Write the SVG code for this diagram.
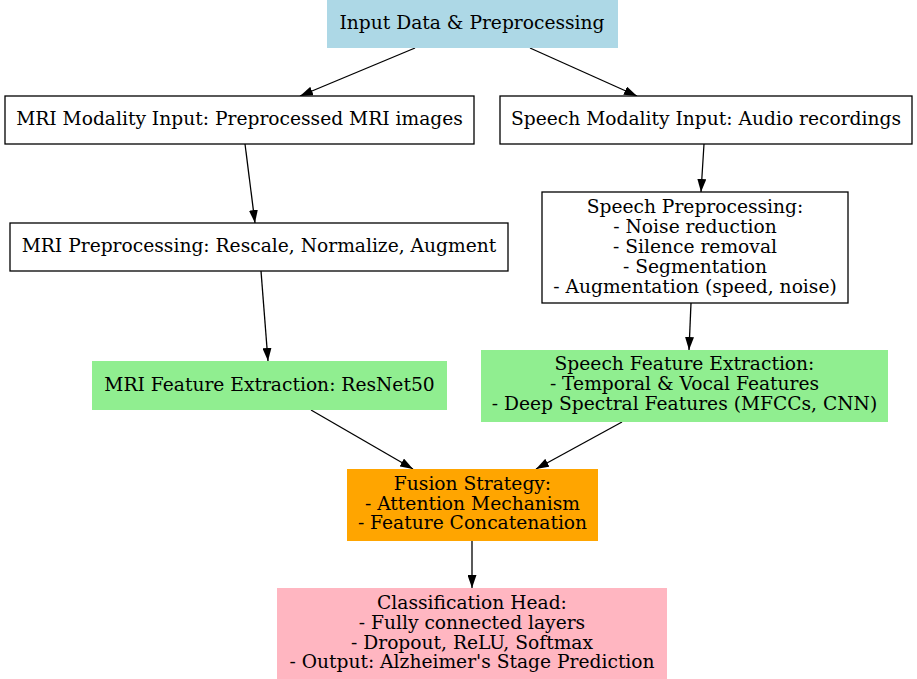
<svg xmlns="http://www.w3.org/2000/svg" width="917" height="679" viewBox="0 0 917 679">
<defs>
<style>
text{font-family:"DejaVu Serif","Liberation Serif",serif;font-size:18.67px;fill:#000;text-anchor:middle}
.o{fill:#fff;stroke:#000;stroke-width:1.3}
.e{stroke:#000;stroke-width:1.3;fill:none;marker-end:url(#a)}
</style>
<marker id="a" viewBox="0 0 13 9" refX="13" refY="4.5" markerWidth="13" markerHeight="9" markerUnits="userSpaceOnUse" orient="auto"><path d="M0,0L13,4.5L0,9z" fill="#000"/></marker>
</defs>
<rect width="917" height="679" fill="#fff"/>
<g id="edges">
<line class="e" x1="415" y1="48" x2="300" y2="96"/>
<line class="e" x1="530" y1="48" x2="637" y2="96"/>
<line class="e" x1="245" y1="144" x2="255" y2="223"/>
<line class="e" x1="704" y1="144" x2="701" y2="192"/>
<line class="e" x1="261" y1="271" x2="268" y2="361"/>
<line class="e" x1="691" y1="303" x2="689" y2="350"/>
<line class="e" x1="311" y1="410" x2="413" y2="469"/>
<line class="e" x1="622" y1="422" x2="536" y2="469"/>
<line class="e" x1="472" y1="541" x2="472" y2="588"/>
</g>
<g id="input"><rect x="327" y="0" width="291" height="48" fill="#add8e6"/><text x="472" y="29">Input Data &amp; Preprocessing</text></g>
<g id="mri_input"><rect class="o" x="5" y="96" width="469" height="48"/><text x="239.5" y="125">MRI Modality Input: Preprocessed MRI images</text></g>
<g id="speech_input"><rect class="o" x="500" y="96" width="412" height="48"/><text x="706" y="125">Speech Modality Input: Audio recordings</text></g>
<g id="mri_pre"><rect class="o" x="10" y="223" width="498" height="48"/><text x="259" y="252">MRI Preprocessing: Rescale, Normalize, Augment</text></g>
<g id="speech_pre"><rect class="o" x="542" y="192" width="306" height="111"/>
<text x="695" y="213">Speech Preprocessing:</text>
<text x="695" y="233">- Noise reduction</text>
<text x="695" y="253">- Silence removal</text>
<text x="695" y="273">- Segmentation</text>
<text x="695" y="293">- Augmentation (speed, noise)</text></g>
<g id="mri_feat"><rect x="92" y="361" width="355" height="49" fill="#90ee90"/><text x="269.5" y="391">MRI Feature Extraction: ResNet50</text></g>
<g id="speech_feat"><rect x="481" y="350" width="407" height="72" fill="#90ee90"/>
<text x="684.5" y="370">Speech Feature Extraction:</text>
<text x="684.5" y="390">- Temporal &amp; Vocal Features</text>
<text x="684.5" y="410">- Deep Spectral Features (MFCCs, CNN)</text></g>
<g id="fusion"><rect x="347" y="469" width="251" height="72" fill="#ffa500"/>
<text x="472.5" y="490">Fusion Strategy:</text>
<text x="472.5" y="510">- Attention Mechanism</text>
<text x="472.5" y="529">- Feature Concatenation</text></g>
<g id="classify"><rect x="277" y="588" width="390" height="91" fill="#ffb6c1"/>
<text x="472" y="609">Classification Head:</text>
<text x="472" y="629">- Fully connected layers</text>
<text x="472" y="649">- Dropout, ReLU, Softmax</text>
<text x="472" y="668">- Output: Alzheimer's Stage Prediction</text></g>
</svg>
